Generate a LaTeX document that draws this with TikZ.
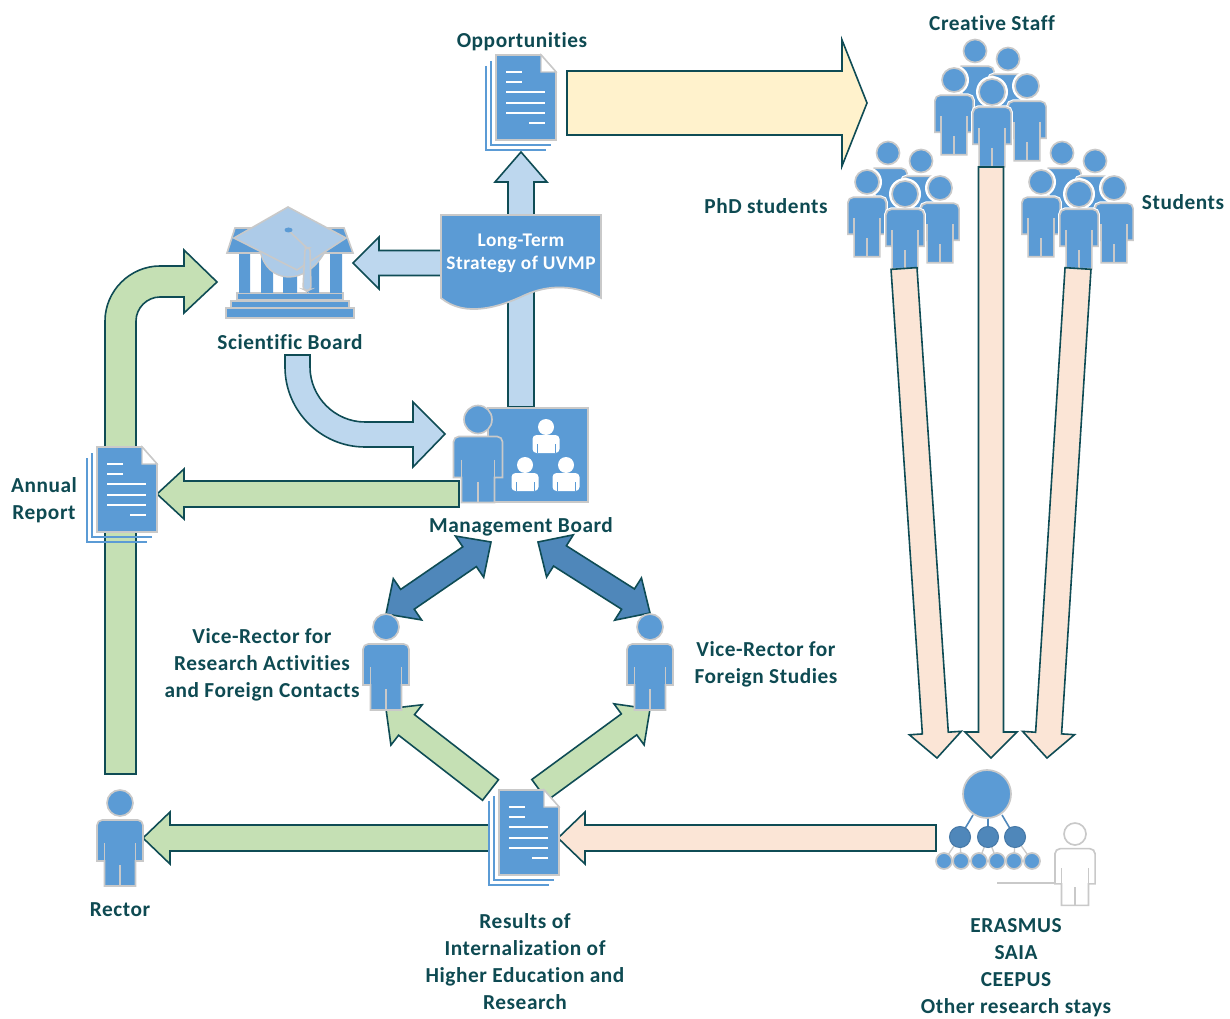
\documentclass[tikz,border=0pt]{standalone}
\usepackage{fontspec}
\setmainfont{Carlito}[LetterSpace=2.6,Ligatures={NoCommon}]
\usetikzlibrary{calc}
\definecolor{iconblue}{HTML}{5B9BD5}
\definecolor{icongray}{HTML}{C9C9C9}
\definecolor{edgeteal}{HTML}{0F4C55}
\definecolor{textteal}{HTML}{0E4A52}
\definecolor{lightblue}{HTML}{BDD7EE}
\definecolor{capblue}{HTML}{ADCBE8}
\definecolor{midblue}{HTML}{4F87BA}
\definecolor{softgreen}{HTML}{C5E0B4}
\definecolor{softcream}{HTML}{FFF2CC}
\definecolor{softpeach}{HTML}{FBE5D6}
\tikzset{
  blockarrow/.style={draw=edgeteal,line width=1.2pt,line join=miter},
  label/.style={text=textteal,font=\fontsize{16}{20.25}\selectfont\bfseries,align=center,inner sep=0pt},
  iconfill/.style={fill=iconblue,draw=icongray,line width=1.25pt},
  iconline/.style={draw=icongray,line width=1.25pt},
}
% from, to, half shaft, half head, head length, fill
\newcommand\barrow[6]{%
  \coordinate (H) at ($(#2)!#5*0.75pt!(#1)$);
  \draw[blockarrow,fill=#6] ($(#1)!#3*0.75pt!90:(#2)$) -- ($(H)!#3*0.75pt!90:(#2)$) -- ($(H)!#4*0.75pt!90:(#2)$) -- (#2)
    -- ($(H)!#4*0.75pt!-90:(#2)$) -- ($(H)!#3*0.75pt!-90:(#2)$) -- ($(#1)!#3*0.75pt!-90:(#2)$) -- cycle;}
% tip a, tip b, half shaft, half head, head length, fill
\newcommand\dbarrow[6]{%
  \coordinate (H) at ($(#2)!#5*0.75pt!(#1)$);
  \coordinate (G) at ($(#1)!#5*0.75pt!(#2)$);
  \draw[blockarrow,fill=#6] (#1) -- ($(G)!#4*0.75pt!90:(#2)$) -- ($(G)!#3*0.75pt!90:(#2)$) -- ($(H)!#3*0.75pt!90:(#2)$) -- ($(H)!#4*0.75pt!90:(#2)$) -- (#2)
    -- ($(H)!#4*0.75pt!-90:(#2)$) -- ($(H)!#3*0.75pt!-90:(#2)$) -- ($(G)!#3*0.75pt!-90:(#2)$) -- ($(G)!#4*0.75pt!-90:(#2)$) -- cycle;}
\newcommand\bodypath{(-24.5,58) -- (-24.5,22) [rounded corners=4] -- (-24.5,17) -- (24.5,17) [sharp corners] -- (24.5,22) -- (24.5,58) -- (16.5,58) -- (16.5,83) -- (-16.5,83) -- (-16.5,58) -- cycle}
% x, y, sx, sy, r
\newcommand\person[5]{%
  \draw[iconfill] (#1,#2) circle[radius=#5];
  \begin{scope}[shift={(#1,#2)},xscale=#3,yscale=#4]
    \draw[iconfill] \bodypath;
    \draw[iconline] (-16.5,40) -- (-16.5,58) (16.5,40) -- (16.5,58) (0,62) -- (0,83);
  \end{scope}}
% same, with the white ring used in crowds
\newcommand\crowdperson[3]{%
  \fill[white] (#1,#2) circle[radius=#3+3];
  \begin{scope}[shift={(#1,#2)},xscale=.78,yscale=.9]
    \draw[white,line width=2.8pt] \bodypath;
  \end{scope}
  \person{#1}{#2}{.78}{.9}{#3}}
\newcommand\crowd[2]{%
  \begin{scope}[shift={(#1,#2)}]
    \crowdperson{975}{51}{11.5}
    \crowdperson{1008}{59}{11.5}
    \crowdperson{954}{80}{12}
    \crowdperson{1027}{86}{12}
    \crowdperson{992}{92}{13}
  \end{scope}}
% document icon: top-left corner of the front page
\newcommand\docicon[2]{%
  \begin{scope}[shift={(#1,#2)}]
    \draw[iconblue,line width=1.8pt] (-10,11) -- (-10,95) -- (50,95);
    \draw[iconblue,line width=1.8pt] (-5,6) -- (-5,90) -- (55,90);
    \draw[iconfill,line width=1.4pt] (0,0) -- (45,0) -- (60,17) -- (60,85) -- (0,85) -- cycle;
    \draw[icongray,fill=white,line width=1pt] (45,0) -- (45,17) -- (60,17) -- cycle;
    \draw[white,line width=1.3pt] (10,17) -- (26,17) (10,27) -- (26,27) (10,37) -- (49,37) (10,48) -- (49,48) (10,58) -- (49,58) (33,68) -- (49,68);
  \end{scope}}
\newcommand\miniperson[2]{%
  \fill[white] (#1,#2) circle[radius=8];
  \fill[white,rounded corners=3] (#1-13.5,#2+26) -- (#1-13.5,#2+8) -- (#1+13.5,#2+8) -- (#1+13.5,#2+26) -- cycle;
  \draw[iconblue,line width=.7pt] (#1-9,#2+17) -- (#1-9,#2+26) (#1+9,#2+17) -- (#1+9,#2+26);}
\begin{document}
\begin{tikzpicture}[x=0.75pt,y=-0.75pt]
\useasboundingbox (0,0) rectangle (1230,1019);

% named anchors of the connectors
\coordinate (oppOut) at (567,103);
\coordinate (staffIn) at (867,103);
\coordinate (mbTop) at (521,407);
\coordinate (oppIn) at (521,152);
\coordinate (stratLeft) at (441,263);
\coordinate (sciIn) at (353,263);
\coordinate (mbLeft) at (459,494);
\coordinate (annualIn) at (157,494);
\coordinate (resLeft) at (489,838);
\coordinate (rectorIn) at (143,838);
\coordinate (orgLeft) at (936,838);
\coordinate (resIn) at (558,838);
\coordinate (resA) at (490.5,790);
\coordinate (vraIn) at (386,709);
\coordinate (resB) at (539.5,790);
\coordinate (vrbIn) at (650,709);
\coordinate (mbA) at (491,542);
\coordinate (vraTop) at (386,614);
\coordinate (mbB) at (538,542);
\coordinate (vrbTop) at (650,613);
\coordinate (phdOut) at (904,268.5);
\coordinate (orgA) at (937,758);
\coordinate (staffOut) at (991,167);
\coordinate (orgB) at (991,758);
\coordinate (stuOut) at (1078,268.5);
\coordinate (orgC) at (1047,758);

% Rector to Scientific Board (curved), under the report icon
\draw[blockarrow,fill=softgreen] (105,774) -- (105,321) .. controls (105,291) and (130,266) .. (160,266) -- (184,266) -- (184,250) -- (217,282) -- (184,313) -- (184,297) -- (160,297) .. controls (147,297) and (136,308) .. (136,321) -- (136,774) -- cycle;

% crowds
\crowd{0}{0}
\crowd{-87}{102}
\crowd{87}{102}

% strategy up-arrow behind its sheet
\barrow{mbTop}{oppIn}{13}{26}{30}{lightblue}
\barrow{oppOut}{staffIn}{32}{63}{25}{softcream}
\barrow{stratLeft}{sciIn}{12.5}{26}{26}{lightblue}

% Scientific Board to Management Board
\draw[blockarrow,fill=lightblue] (285,355) -- (285,367) .. controls (285,411) and (321,447) .. (365,447) -- (413,447) -- (413,467) -- (445,434) -- (413,402) -- (413,422) -- (365,422) .. controls (335,422) and (310,397) .. (310,367) -- (310,355) -- cycle;

\barrow{mbLeft}{annualIn}{13}{25}{27}{softgreen}
\barrow{resLeft}{rectorIn}{13}{26}{27}{softgreen}
\barrow{orgLeft}{resIn}{13}{26}{27}{softpeach}
\barrow{resA}{vraIn}{13}{25.5}{26}{softgreen}
\barrow{resB}{vrbIn}{13}{25.5}{26}{softgreen}
\dbarrow{vraTop}{mbA}{12}{25}{26}{midblue}
\dbarrow{vrbTop}{mbB}{12}{25}{26}{midblue}
\barrow{phdOut}{orgA}{13}{26}{25}{softpeach}
\barrow{staffOut}{orgB}{12.5}{26}{26}{softpeach}
\barrow{stuOut}{orgC}{13}{26}{25}{softpeach}

% long-term strategy sheet
\draw[iconfill,line width=1.3pt] (441,215) -- (601,215) -- (601,298) .. controls (575,285) and (550,284) .. (525,295) .. controls (500,307) and (465,318) .. (441,298) -- cycle;
\node[label,text=white,font=\fontsize{14.5}{17.25}\selectfont\bfseries] (strategy) at (521,253.5) {Long-Term\\Strategy of UVMP};

% documents
\docicon{496}{55}
\docicon{97}{447}
\docicon{499}{790}

% Scientific Board icon
\draw[iconfill] (226,308) rectangle (354,318);
\draw[iconfill] (231,301) rectangle (349,307.5);
\draw[iconfill] (237,293) rectangle (343,299.5);
\fill[iconblue] (239,253) rectangle (250,293) (261,253) rectangle (273,293) (283,253) rectangle (297,293) (307,253) rectangle (319,293) (330,253) rectangle (342,293);
\draw[iconfill] (235,228) -- (344,228) -- (353,253) -- (227,253) -- cycle;
\draw[icongray,fill=capblue,line width=1pt] (260,250) .. controls (266,284) and (306,288) .. (326,250) -- (297,238) -- cycle;
\draw[icongray,fill=capblue,line width=1.2pt] (288,207) -- (346,238) -- (297,270) -- (234,238) -- cycle;
\draw[icongray,line width=1.2pt] (288,230) -- (307,248);
\draw[icongray,fill=capblue,line width=1.2pt,rounded corners=2] (305,248) -- (310,248) -- (311,289) -- (307,291) -- (303,289) -- cycle;
\fill[iconblue] (288.5,230) ellipse[x radius=4,y radius=2.5];

% Management Board icon
\draw[iconfill] (488,408) rectangle (588,502);
\miniperson{546}{427}
\miniperson{525}{465}
\miniperson{566}{465}
\person{478}{419.5}{1}{1}{14}

% vice-rectors and rector
\person{386}{627}{.94}{1}{13}
\person{650}{627}{.94}{1}{13}
\person{120}{803}{.94}{1}{13}

% organisation chart and outlined person
\draw[midblue,line width=1.2pt] (973,815) -- (960,837) (988,815) -- (988,837) (1002,815) -- (1015,837);
\draw[icongray,line width=1pt] (960,837) -- (944,861) (960,837) -- (961,861) (988,837) -- (979,861) (988,837) -- (997,861) (1015,837) -- (1014,861) (1015,837) -- (1032,861);
\draw[iconfill,line width=1.3pt] (987,794) circle[radius=24];
\foreach \mx in {960,988,1015}{\draw[midblue!90!black,fill=midblue,line width=.8pt] (\mx,837) circle[radius=10.5];}
\foreach \sx in {944,961,979,997,1014,1032}{\draw[iconfill,line width=1.3pt] (\sx,861) circle[radius=8];}
\draw[iconline] (997,883) -- (1055,883);
\draw[iconline,fill=white] (1075,834) circle[radius=11];
\begin{scope}[shift={(1075,834)},xscale=.82,yscale=.86]
  \draw[iconline,fill=white] \bodypath;
  \draw[iconline] (-16.5,40) -- (-16.5,58) (16.5,40) -- (16.5,58) (0,62) -- (0,83);
\end{scope}

% labels
\node[label] (opp) at (522,42) {Opportunities};
\node[label] (staff) at (992,23) {Creative Staff};
\node[label] (phd) at (766,206) {PhD students};
\node[label] (stu) at (1183,202) {Students};
\node[label] (sci) at (290,342) {Scientific Board};
\node[label] (mb) at (521,527) {Management Board};
\node[label] (annual) at (44,500.5) {Annual\\Report};
\node[label] (vra) at (262,665) {Vice-Rector for\\Research Activities\\and Foreign Contacts};
\node[label] (vrb) at (766,664.5) {Vice-Rector for\\Foreign Studies};
\node[label] (rector) at (120,910) {Rector};
\node[label] (results) at (525,961.5) {Results of\\Internalization of\\Higher Education and\\Research};
\node[label] (erasmus) at (1016,967.5) {ERASMUS\\SAIA\\CEEPUS\\Other research stays};
\end{tikzpicture}
\end{document}
